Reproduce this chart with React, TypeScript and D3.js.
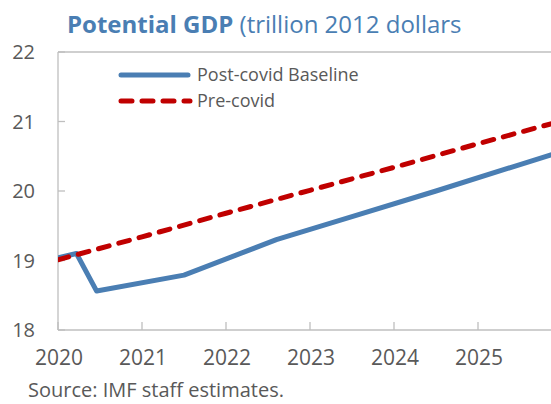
import React from "react";
import * as d3 from "d3";

const title = "Potential GDP";
const titleUnit = " (trillion 2012 dollars";
const source = "Source: IMF staff estimates.";
const seriesNames = ["Post-covid Baseline", "Pre-covid"];

const xTicks = [2020, 2021, 2022, 2023, 2024, 2025];
const yTicks = [18, 19, 20, 21, 22];

// Post-covid baseline (year, trillion 2012 dollars)
const baselineYears = [2020.0, 2020.22, 2020.46, 2021.5, 2022.6, 2023.5, 2024.5, 2025.5, 2026.0];
const baselineValues = [19.04, 19.1, 18.56, 18.79, 19.3, 19.63, 20.0, 20.38, 20.57];

// Pre-covid
const precovidYears = [2020, 2021, 2022, 2023, 2024, 2025, 2026];
const precovidValues = [19.01, 19.34, 19.68, 20.01, 20.34, 20.68, 21.01];

const W = 551;
const H = 404;
const left = 58;
const right = 551;
const top = 52;
const bottom = 330;

const FONT = "'Open Sans', 'Noto Sans', sans-serif";
const TXT = "#595959";
const AX = "#BFBFBF";
const BLUE = "#4A7EB3";
const RED = "#C00000";

export default function App() {
  const x = d3.scaleLinear().domain([2020, 2026]).range([left, left + 84 * 6]);
  const y = d3.scaleLinear().domain([18, 22]).range([bottom, top]);

  const line = d3
    .line<[number, number]>()
    .x((d) => x(d[0]))
    .y((d) => y(d[1]));

  const base: [number, number][] = baselineYears.map((yr, i) => [yr, baselineValues[i]]);
  const pre: [number, number][] = precovidYears.map((yr, i) => [yr, precovidValues[i]]);

  return (
    <svg
      width={W}
      height={H}
      style={{ position: "absolute", left: 0, top: 0, background: "#fff" }}
      fontFamily={FONT}
    >
      <defs>
        <clipPath id="plotclip">
          <rect x={left} y={top - 10} width={right - left} height={bottom - top + 20} />
        </clipPath>
      </defs>
      <text x={67} y={33} fill={BLUE} fontSize={24}>
        <tspan fontWeight="bold">{title}</tspan>
        <tspan>{titleUnit}</tspan>
      </text>

      {/* frame */}
      <line x1={left} x2={right} y1={top} y2={top} stroke={AX} strokeWidth={1.3} />
      <line x1={left} x2={left} y1={top} y2={bottom} stroke={AX} strokeWidth={1.3} />
      <line x1={left} x2={right} y1={bottom} y2={bottom} stroke={AX} strokeWidth={1.3} />

      {yTicks.map((t) => (
        <g key={"y" + t}>
          <line x1={left} x2={left + 7} y1={y(t)} y2={y(t)} stroke={AX} strokeWidth={1.3} />
          <text x={35} y={y(t)} dy="0.36em" textAnchor="end" fill={TXT} fontSize={20}>
            {t}
          </text>
        </g>
      ))}
      {xTicks.map((t) => (
        <g key={"x" + t}>
          <line x1={x(t)} x2={x(t)} y1={bottom} y2={bottom - 8} stroke={AX} strokeWidth={1.3} />
          <text x={x(t) + 1} y={365} textAnchor="middle" fill={TXT} fontSize={21}>
            {t}
          </text>
        </g>
      ))}

      <g clipPath="url(#plotclip)">
        <path d={line(base) || ""} fill="none" stroke={BLUE} strokeWidth={5} strokeLinejoin="round" />
        <path
          d={line(pre) || ""}
          fill="none"
          stroke={RED}
          strokeWidth={5}
          strokeDasharray="11,10"
          strokeLinecap="round"
        />
      </g>

      {/* legend */}
      <line x1={121} x2={188} y1={75} y2={75} stroke={BLUE} strokeWidth={5} strokeLinecap="round" />
      <text x={197} y={75} dy="0.35em" fill={TXT} fontSize={18}>
        {seriesNames[0]}
      </text>
      <line
        x1={121}
        x2={190}
        y1={101}
        y2={101}
        stroke={RED}
        strokeWidth={5}
        strokeDasharray="11,10"
        strokeLinecap="round"
      />
      <text x={197} y={101} dy="0.35em" fill={TXT} fontSize={18}>
        {seriesNames[1]}
      </text>

      <text x={28} y={397} fill={TXT} fontSize={20}>
        {source}
      </text>
    </svg>
  );
}
